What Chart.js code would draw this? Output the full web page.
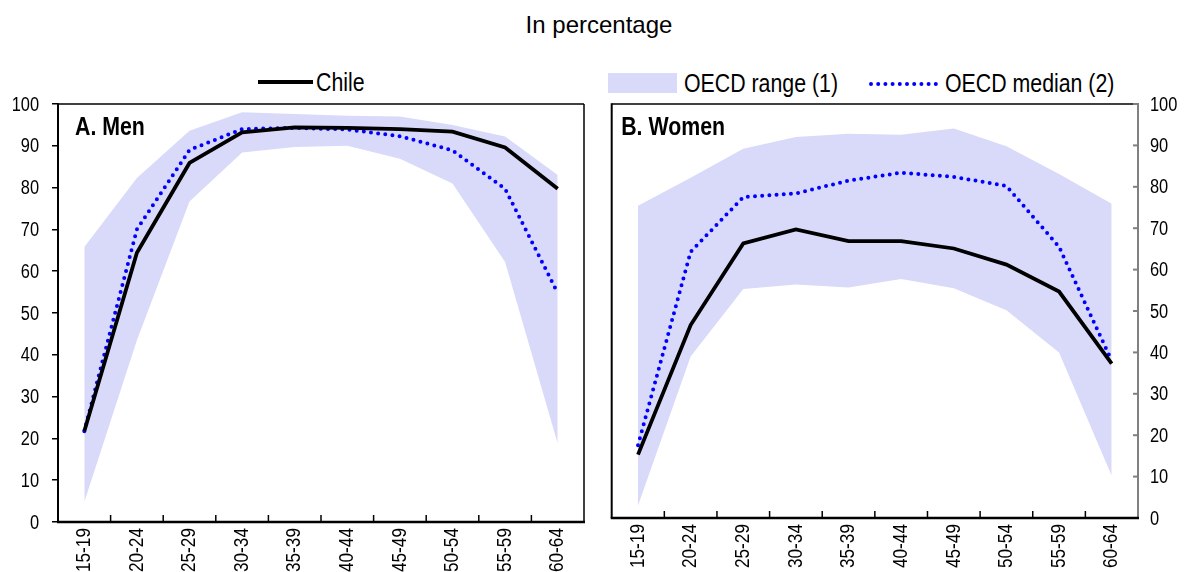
<!DOCTYPE html>
<html>
<head>
<meta charset="utf-8">
<script src="https://cdn.jsdelivr.net/npm/chart.js@4.4.1/dist/chart.umd.min.js"></script>
<style>
body { margin: 0; background: #fff; }
#wrap { position: relative; width: 1188px; height: 572px; overflow: hidden; }
#title { position: absolute; left: 0; width: 1198px; top: 11px; text-align: center; font: 24px "Liberation Sans", Arial, sans-serif; color: #000; }
/* narrow look: Liberation Sans squeezed like Arial Narrow */
.leg { position: absolute; font: 26px "Liberation Sans", Arial, sans-serif; line-height: 30px; white-space: nowrap; color: #000;
       transform: scaleX(0.82); transform-origin: 0 0; }
canvas { position: absolute; top: 0; }
</style>
</head>
<body>
<div id="wrap">
  <div id="title">In percentage</div>

  <div style="position:absolute;left:258px;top:80px;width:55px;height:4px;background:#000"></div>
  <div class="leg" style="left:316px;top:67px">Chile</div>

  <div style="position:absolute;left:608px;top:73px;width:69px;height:20px;background:#D9D9FA"></div>
  <div class="leg" style="left:684px;top:68px">OECD range (1)</div>

  <svg style="position:absolute;left:868px;top:79px" width="72" height="10">
    <line x1="3" y1="5" x2="68" y2="5" stroke="#0000FF" stroke-width="4" stroke-dasharray="0 7.2" stroke-linecap="round"/>
  </svg>
  <div class="leg" style="left:945px;top:68px">OECD median (2)</div>

  <canvas id="men" width="595" height="572" style="left:0"></canvas>
  <canvas id="women" width="593" height="572" style="left:595px"></canvas>
</div>

<script>
// age groups on the x axis
var ageGroups = ['15-19', '20-24', '25-29', '30-34', '35-39', '40-44', '45-49', '50-54', '55-59', '60-64'];

// A. Men
var chileMen      = [21.7, 64.4, 85.9, 93.2, 94.4, 94.3, 94.0, 93.4, 89.6, 79.7];
var medianMen     = [21.7, 70.0, 89.0, 94.0, 94.3, 93.9, 92.3, 88.9, 79.7, 54.8];
var rangeLowMen   = [4.8, 43.5, 76.7, 88.4, 89.7, 90.0, 86.9, 81.0, 62.2, 18.8];
var rangeHighMen  = [65.8, 82.3, 93.6, 98.0, 97.6, 97.2, 97.0, 95.0, 92.2, 83.0];

// B. Women
var chileWomen     = [15.3, 46.6, 66.3, 69.7, 66.9, 66.9, 65.1, 61.2, 54.7, 37.3];
var medianWomen    = [17.6, 64.3, 77.5, 78.4, 81.5, 83.4, 82.4, 80.2, 65.5, 38.0];
var rangeLowWomen  = [3.0, 39.0, 55.3, 56.4, 55.7, 57.7, 55.5, 50.2, 40.0, 10.2];
var rangeHighWomen = [75.4, 82.2, 89.2, 92.0, 92.8, 92.6, 94.1, 89.8, 83.1, 75.9];

var yMin = 0, yMax = 100, yStep = 10;

var sans = '"Liberation Sans", Arial, sans-serif';
var squeeze = 0.82;

// frame, inward x ticks, right-side grey axis, squeezed tick labels and panel title
var framePlugin = {
    id: 'frame',
    afterDraw: function(chart) {
        var o = chart.options.plugins.frame;
        var a = chart.chartArea, ctx = chart.ctx;
        var xs = chart.scales.x, ys = chart.scales.y;
        ctx.save();
        ctx.strokeStyle = '#000';
        // top
        ctx.lineWidth = 1.5;
        ctx.beginPath(); ctx.moveTo(a.left, a.top); ctx.lineTo(a.right, a.top); ctx.stroke();
        // right side
        if (o.rightAxis) {
            ctx.strokeStyle = '#808080';
            ctx.lineWidth = 2;
            ctx.beginPath(); ctx.moveTo(a.right, a.top - 1); ctx.lineTo(a.right, a.bottom); ctx.stroke();
            ys.ticks.forEach(function(t) {
                var y = ys.getPixelForValue(t.value);
                ctx.beginPath(); ctx.moveTo(a.right - 5, y); ctx.lineTo(a.right, y); ctx.stroke();
            });
            ctx.strokeStyle = '#000';
        } else {
            ctx.lineWidth = 1.5;
            ctx.beginPath(); ctx.moveTo(a.right, a.top); ctx.lineTo(a.right, a.bottom); ctx.stroke();
        }
        // left
        ctx.lineWidth = 2;
        ctx.beginPath(); ctx.moveTo(a.left, a.top - 0.75); ctx.lineTo(a.left, a.bottom); ctx.stroke();
        // bottom
        ctx.lineWidth = 2.5;
        ctx.beginPath(); ctx.moveTo(a.left - 1, a.bottom); ctx.lineTo(a.right + 1, a.bottom); ctx.stroke();
        // inward ticks between categories
        ctx.lineWidth = 1.5;
        for (var i = 0; i < ageGroups.length - 1; i++) {
            var x = (xs.getPixelForValue(i) + xs.getPixelForValue(i + 1)) / 2;
            ctx.beginPath(); ctx.moveTo(x, a.bottom); ctx.lineTo(x, a.bottom - 7); ctx.stroke();
        }

        ctx.fillStyle = '#000';
        // x labels, rotated
        ctx.font = '21px ' + sans;
        xs.ticks.forEach(function(t, i) {
            ctx.save();
            ctx.translate(xs.getPixelForValue(i), a.bottom + 6);
            ctx.rotate(-Math.PI / 2);
            ctx.scale(squeeze, 1);
            ctx.textAlign = 'right';
            ctx.textBaseline = 'middle';
            ctx.fillText(xs.getLabelForValue(i), 0, 0);
            ctx.restore();
        });
        // y labels
        ctx.font = '20px ' + sans;
        ys.ticks.forEach(function(t) {
            ctx.save();
            ctx.translate(o.rightAxis ? a.right + 12 : a.left - 19, ys.getPixelForValue(t.value) + 1);
            ctx.scale(squeeze, 1);
            ctx.textAlign = o.rightAxis ? 'left' : 'right';
            ctx.textBaseline = 'middle';
            ctx.fillText(t.label, 0, 0);
            ctx.restore();
        });

        // panel title
        ctx.save();
        ctx.translate(a.left + o.titleX, a.top + 31);
        ctx.scale(squeeze, 1);
        ctx.font = 'bold 26px ' + sans;
        ctx.textBaseline = 'alphabetic';
        ctx.fillText(o.title, 0, 0);
        ctx.restore();
        ctx.restore();
    }
};

function makePanel(id, title, chile, median, low, high, right) {
    var ctx = document.getElementById(id);
    new Chart(ctx, {
        type: 'line',
        data: {
            labels: ageGroups,
            datasets: [
                { label: 'Chile', data: chile, borderColor: '#000', borderWidth: 3.8,
                  pointRadius: 0, fill: false, tension: 0 },
                { label: 'OECD median (2)', data: median, borderColor: '#0000FF', borderWidth: 4,
                  borderDash: [0, 7.2], borderCapStyle: 'round', pointRadius: 0, fill: false, tension: 0 },
                { label: 'low', data: low, borderColor: 'rgba(0,0,0,0)', borderWidth: 1,
                  pointRadius: 0, fill: false, tension: 0 },
                { label: 'OECD range (1)', data: high, borderColor: 'rgba(0,0,0,0)', borderWidth: 1,
                  backgroundColor: '#D9D9FA', pointRadius: 0, fill: '-1', tension: 0 }
            ]
        },
        options: {
            responsive: false,
            animation: false,
            layout: { padding: right ? { top: 104, left: 16.7, right: 0, bottom: 0 }
                                     : { top: 104, left: 0, right: 11, bottom: 0 } },
            plugins: {
                legend: { display: false },
                tooltip: { enabled: false },
                frame: { title: title, titleX: right ? 9.5 : 17, rightAxis: right }
            },
            scales: {
                x: {
                    offset: true,
                    grid: { display: false, drawTicks: false },
                    border: { display: false },
                    ticks: { display: false, autoSkip: false },
                    afterFit: function(s) { s.height = right ? 54 : 50; }
                },
                y: {
                    position: right ? 'right' : 'left',
                    min: yMin, max: yMax,
                    grid: right ? { display: false, drawTicks: false }
                                : { drawOnChartArea: false, drawTicks: true, tickLength: 6, color: '#000', lineWidth: 1.5 },
                    border: { display: false },
                    ticks: { stepSize: yStep, display: false },
                    afterFit: function(s) { s.width = right ? 50 : 58; }
                }
            }
        },
        plugins: [framePlugin]
    });
}

makePanel('men', 'A. Men', chileMen, medianMen, rangeLowMen, rangeHighMen, false);
makePanel('women', 'B. Women', chileWomen, medianWomen, rangeLowWomen, rangeHighWomen, true);
</script>
</body>
</html>
